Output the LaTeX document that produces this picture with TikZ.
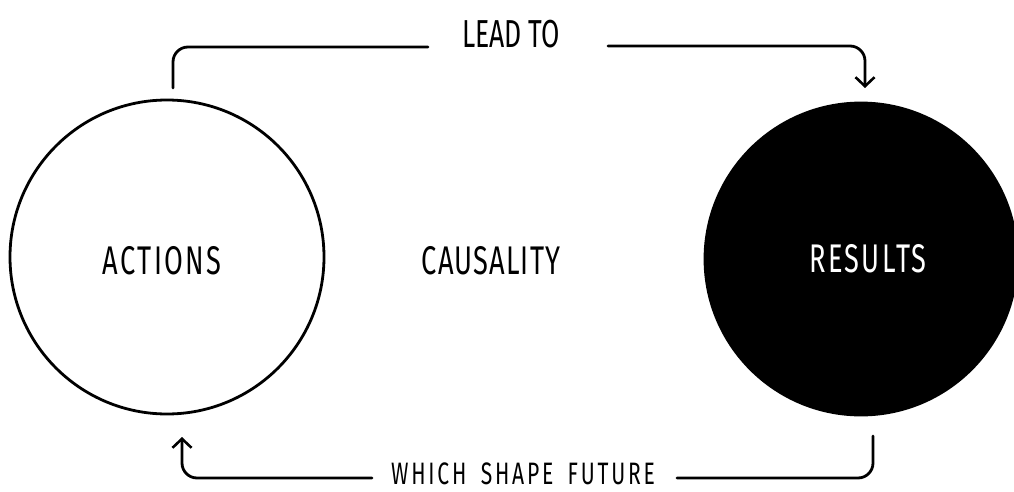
\documentclass[tikz,border=0pt]{standalone}
\usepackage{fontspec}
\setmainfont{Fira Sans}[FakeStretch=0.68]
\newfontfamily\handwide{Fira Sans}[FakeStretch=0.68,LetterSpace=6]
\newfontfamily\handmid{Fira Sans}[FakeStretch=0.68,LetterSpace=3]
\newfontfamily\handsmall{Fira Sans}[FakeStretch=0.68,LetterSpace=9]
\usetikzlibrary{arrows.meta}
\tikzset{
  ink/.style={line width=2.8pt, line cap=round, line join=round},
  conn/.style={ink, rounded corners=15pt},
  tip/.style={-{Straight Barb[length=9pt,width=19pt,line width=2.6pt]}},
  lbl/.style={inner sep=0pt, font=\handwide\fontsize{40}{40}\selectfont},
  midlbl/.style={inner sep=0pt, font=\handmid\fontsize{40}{40}\selectfont},
  toplbl/.style={inner sep=0pt, font=\fontsize{39}{39}\selectfont},
  small/.style={inner sep=0pt, font=\handsmall\fontsize{31}{31}\selectfont},
}
\begin{document}
\begin{tikzpicture}[x=1pt,y=-1pt]
\useasboundingbox (0,0) rectangle (1014,492);
\node[ink, draw, circle, minimum size=314pt, inner sep=0pt] (act) at (167,257) {};
\node[ink, draw, fill=black, circle, minimum size=312pt, inner sep=0pt] (res) at (861,259) {};
\node[lbl] (tact) at (162,261) {ACTIONS};
\node[lbl, text=white] (tres) at (868,259) {RESULTS};
\node[midlbl] (caus) at (491,261) {CAUSALITY};
\node[toplbl] (lead) at (511,34) {LEAD TO};
\node[small] (which) at (523,474) {WHICH\hspace{6pt} SHAPE\hspace{6pt} FUTURE};
\coordinate (a1) at (173,88);
\coordinate (l1) at (428,47);
\coordinate (l2) at (608,46);
\coordinate (r1) at (865,88);
\coordinate (r2) at (873,436);
\coordinate (b1) at (677,478);
\coordinate (b2) at (372,478);
\coordinate (a2) at (182,437);
\draw[conn] (a1) |- (l1);
\draw[conn, tip] (l2) -| (r1);
\draw[conn] (r2) |- (b1);
\draw[conn, tip] (b2) -| (a2);
\end{tikzpicture}
\end{document}
